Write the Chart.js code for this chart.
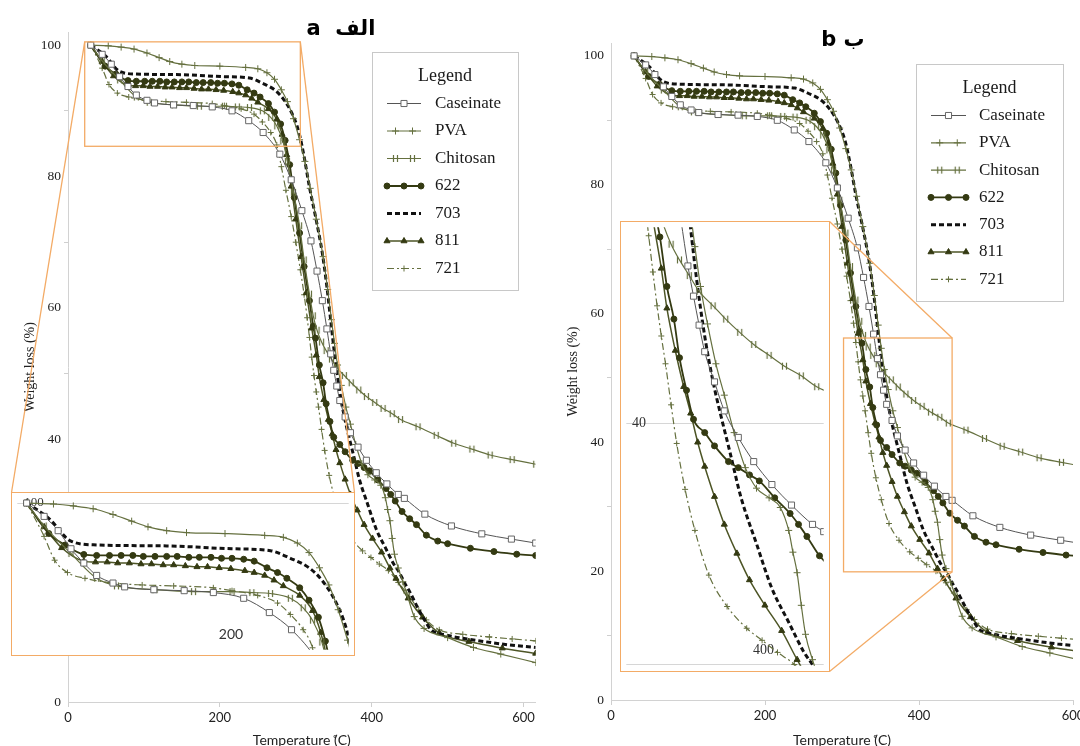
<!DOCTYPE html>
<html>
<head>
<meta charset="utf-8">
<title>TGA curves</title>
<script src="https://cdn.jsdelivr.net/npm/chart.js@4.4.1/dist/chart.umd.min.js"></script>
<style>
  html, body { margin: 0; padding: 0; background: #fff; }
  #page { position: relative; width: 1080px; height: 746px; overflow: hidden; }
  canvas { position: absolute; display: block; }
  .inset { position: absolute; box-sizing: border-box; border: 1px solid #f3ab66; background: #fff; }
  .inset canvas { left: 0; top: 0; }
  .ptitle { position: absolute; width: 200px; text-align: center; font: bold 21px "DejaVu Sans", sans-serif; white-space: nowrap; color: #000; }
</style>
</head>
<body>
<div id="page">
  <canvas id="mainA" width="541" height="746" style="left:0;top:0"></canvas>
  <canvas id="mainB" width="535" height="746" style="left:545px;top:0"></canvas>
  <div class="inset" style="left:11px;top:492px;width:344px;height:164px"><canvas id="insetA" width="342" height="162"></canvas></div>
  <div class="inset" style="left:620px;top:221px;width:210px;height:451px"><canvas id="insetB" width="208" height="449"></canvas></div>
  <div class="ptitle" style="left:241px;top:16px">a&nbsp; الف</div>
  <div class="ptitle" style="left:743px;top:27px">b ب</div>
</div>
<script>
// temperature (C) / weight (%)
const caseinateT = [30, 45, 57, 68, 79, 90, 104, 114, 139, 165, 190, 216, 238, 257, 279, 294, 308, 320, 328, 335, 341, 346, 350, 354, 358, 365, 372, 382, 393, 406, 420, 435, 443, 470, 505, 545, 584, 616];
const caseinateW = [100, 98.6, 97.1, 95.2, 93.7, 92.4, 91.6, 91.2, 90.9, 90.8, 90.6, 90.0, 88.5, 86.7, 83.4, 79.5, 74.8, 70.2, 65.6, 61.1, 56.8, 53.0, 50.5, 48.1, 45.9, 43.4, 41.0, 38.8, 36.8, 34.9, 33.2, 31.6, 31.0, 28.6, 26.8, 25.6, 24.8, 24.2];

const pvaT = [30, 53, 70, 87, 104, 120, 134, 150, 167, 200, 234, 250, 262, 272, 281, 289, 297, 305, 312, 319, 327, 336, 342, 347, 351, 355, 360, 366, 372, 379, 387, 395, 404, 412, 418, 421, 424, 427, 430, 435, 441, 446, 456, 469, 500, 534, 570, 616];
const pvaW = [100, 99.9, 99.7, 99.4, 98.8, 98.1, 97.5, 97.1, 96.9, 96.8, 96.6, 96.4, 95.8, 94.8, 93.2, 91.4, 88.8, 85.6, 82.3, 78.2, 73.5, 67.8, 62.8, 58.2, 54.6, 51.3, 48.2, 44.9, 42.3, 39.2, 36.3, 34.6, 33.8, 33.0, 31.1, 29.3, 27.6, 24.9, 22.5, 20.4, 18.3, 16.6, 13.0, 11.2, 9.8, 8.3, 7.3, 6.0];

const chitosanT = [30, 45, 68, 90, 107, 140, 173, 206, 223, 239, 256, 267, 275, 283, 289, 297, 305, 311, 318, 323, 328, 334, 340, 347, 354, 364, 373, 383, 393, 404, 415, 427, 438, 461, 485, 508, 532, 556, 585, 616];
const chitosanW = [100, 97.6, 94.7, 92.1, 91.3, 90.9, 90.7, 90.7, 90.6, 90.5, 90.0, 89.0, 87.7, 85.4, 82.3, 77.6, 72.5, 67.3, 62.1, 58.8, 56.6, 54.8, 53.5, 52.2, 50.9, 49.7, 48.6, 47.5, 46.5, 45.6, 44.7, 43.9, 43.0, 41.9, 40.6, 39.4, 38.5, 37.6, 36.9, 36.2];

const s622T = [30, 49, 63, 79, 90, 101, 111, 121, 130, 140, 150, 159, 169, 178, 188, 197, 206, 216, 225, 236, 245, 253, 264, 272, 280, 286, 292, 298, 305, 311, 318, 323, 326, 331, 336, 340, 345, 350, 358, 365, 375, 382, 390, 397, 408, 419, 425, 431, 440, 450, 459, 472, 487, 500, 530, 561, 591, 616];
const s622W = [100, 96.8, 95.6, 94.6, 94.5, 94.5, 94.5, 94.5, 94.4, 94.4, 94.4, 94.4, 94.3, 94.3, 94.3, 94.2, 94.2, 94.1, 93.9, 93.2, 92.7, 92.1, 91.1, 89.8, 88.0, 85.5, 81.8, 76.8, 71.4, 66.3, 61.1, 57.2, 55.4, 51.3, 48.6, 45.4, 42.7, 40.3, 39.2, 38.1, 36.8, 36.3, 35.7, 35.2, 33.8, 32.5, 31.6, 30.6, 29.0, 27.9, 27.0, 25.4, 24.5, 24.1, 23.4, 22.9, 22.5, 22.3];

const s703T = [30, 49, 68, 90, 150, 206, 239, 256, 272, 283, 295, 304, 311, 318, 326, 335, 341, 346, 352, 358, 364, 370, 376, 384, 395, 406, 418, 429, 436, 443, 450, 460, 470, 478, 498, 537, 580, 616];
const s703W = [100, 98.4, 96.0, 95.6, 95.5, 95.2, 95.0, 94.2, 93.2, 91.9, 89.6, 86.8, 83.0, 78.4, 73.9, 68.3, 63.2, 58.1, 52.1, 47.2, 43.4, 40.4, 37.6, 33.8, 30.0, 26.3, 23.5, 21.0, 19.8, 18.2, 16.8, 14.5, 12.4, 11.0, 10.2, 9.4, 8.7, 8.3];

const s811T = [30, 45, 60, 79, 89, 99, 108, 118, 128, 137, 147, 156, 166, 176, 185, 195, 205, 217, 225, 234, 242, 250, 264, 275, 282, 288, 294, 300, 307, 314, 321, 327, 331, 337, 343, 348, 353, 358, 365, 372, 381, 390, 401, 413, 424, 432, 448, 467, 489, 528, 572, 616];
const s811W = [100, 97.5, 95.3, 93.9, 93.8, 93.8, 93.7, 93.7, 93.6, 93.6, 93.5, 93.5, 93.4, 93.3, 93.3, 93.2, 93.1, 92.9, 92.7, 92.4, 91.9, 91.3, 90.3, 88.7, 86.4, 83.3, 78.5, 73.5, 67.8, 62.3, 56.9, 52.8, 49.5, 46.0, 43.0, 40.8, 38.4, 36.4, 33.9, 31.6, 29.2, 27.0, 24.9, 22.8, 20.4, 18.8, 15.8, 12.9, 10.5, 9.2, 8.2, 7.4];

const s721T = [30, 45, 54, 65, 80, 104, 129, 156, 190, 206, 228, 245, 256, 267, 275, 281, 287, 294, 300, 306, 311, 315, 318, 321, 324, 327, 330, 334, 338, 344, 351, 361, 374, 388, 399, 410, 422, 435, 450, 462, 472, 489, 520, 555, 585, 616];
const s721W = [100, 96.5, 94.0, 92.7, 92.1, 91.6, 91.4, 91.3, 91.1, 90.8, 90.3, 89.5, 88.3, 86.7, 84.8, 81.5, 77.9, 73.9, 70.0, 65.8, 62.0, 58.5, 55.5, 52.5, 49.7, 47.2, 44.9, 41.5, 38.3, 34.5, 31.1, 27.4, 24.8, 23.0, 22.0, 21.0, 20.0, 18.2, 16.0, 14.0, 12.5, 11.0, 10.3, 9.9, 9.6, 9.3];

const yTickValues = [0, 10, 20, 30, 40, 50, 60, 70, 80, 90, 100];
const yLabelValues = [0, 20, 40, 60, 80, 100];
const xLabelValues = [0, 200, 400, 600];

// zoomed windows [min, max]
const zoomAx = [22, 306], zoomAy = [84.6, 100.5];
const zoomBx = [302, 443], zoomBy = [19.9, 56.2];

const olive = '#65703f';
const dark = '#343a12';
const orange = '#f3ab66';

function series(T, W) {
  return T.map((t, i) => ({ x: t, y: W[i] }));
}

// chitosan marker: two short bars across the line
function hashMark() {
  const c = document.createElement('canvas');
  c.width = 9; c.height = 9;
  const g = c.getContext('2d');
  g.strokeStyle = olive; g.lineWidth = 1.2;
  g.beginPath();
  g.moveTo(2.5, 1); g.lineTo(2.5, 8);
  g.moveTo(6.5, 1); g.lineTo(6.5, 8);
  g.stroke();
  return c;
}
const hashImg = hashMark();

// keep markers roughly evenly spaced on screen
function markerRadius(c) {
  const ds = c.dataset;
  if (!ds.markGap) return 0;
  if (c.type !== 'data') return ds.pointR;
  const chart = c.chart;
  chart.$marks = chart.$marks || {};
  let mask = chart.$marks[c.datasetIndex];
  if (!mask) {
    const sx = chart.scales.x, sy = chart.scales.y;
    let lx = -1e9, ly = -1e9;
    mask = ds.data.map(p => {
      const px = sx.getPixelForValue(p.x), py = sy.getPixelForValue(p.y);
      if (Math.hypot(px - lx, py - ly) < ds.markGap) return false;
      lx = px; ly = py;
      return true;
    });
    chart.$marks[c.datasetIndex] = mask;
  }
  return mask[c.dataIndex] ? ds.pointR : 0;
}

function makeDatasets() {
  return [
    { label: 'Caseinate', data: series(caseinateT, caseinateW), borderColor: '#555', borderWidth: 1,
      pointStyle: 'rect', pointR: 4.3, pointBackgroundColor: '#fff', pointBorderColor: '#666', pointBorderWidth: 1,
      markGap: 24, legendMarks: [0.5] },
    { label: 'PVA', data: series(pvaT, pvaW), borderColor: olive, borderWidth: 1.2,
      pointStyle: 'cross', pointR: 3.5, pointBackgroundColor: olive, pointBorderColor: olive, pointBorderWidth: 1,
      markGap: 16, legendMarks: [0.25, 0.75] },
    { label: 'Chitosan', data: series(chitosanT, chitosanW), borderColor: olive, borderWidth: 1.2,
      pointStyle: hashImg, pointR: 4, pointBackgroundColor: olive, pointBorderColor: olive, pointBorderWidth: 1,
      markGap: 16, legendMarks: [0.25, 0.75] },
    { label: '622', data: series(s622T, s622W), borderColor: dark, borderWidth: 1.8,
      pointStyle: 'circle', pointR: 3, pointBackgroundColor: dark, pointBorderColor: dark, pointBorderWidth: 1,
      markGap: 10, legendMarks: [0, 0.5, 1] },
    { label: '703', data: series(s703T, s703W), borderColor: '#111', borderWidth: 3, borderDash: [5, 3],
      pointStyle: 'circle', pointR: 0, pointBackgroundColor: '#111', pointBorderColor: '#111', pointBorderWidth: 0,
      markGap: 0, legendMarks: [] },
    { label: '811', data: series(s811T, s811W), borderColor: '#4d5526', borderWidth: 1.5,
      pointStyle: 'triangle', pointR: 3.5, pointBackgroundColor: dark, pointBorderColor: dark, pointBorderWidth: 1,
      markGap: 10, legendMarks: [0, 0.5, 1] },
    { label: '721', data: series(s721T, s721W), borderColor: olive, borderWidth: 1.2, borderDash: [7, 3, 2, 3],
      pointStyle: 'cross', pointR: 3, pointBackgroundColor: olive, pointBorderColor: olive, pointBorderWidth: 1,
      markGap: 16, legendMarks: [0.5] }
  ].map(ds => Object.assign({
    fill: false, cubicInterpolationMode: 'monotone', pointRadius: markerRadius, pointHoverRadius: 0
  }, ds));
}

const boxLegend = {
  id: 'boxLegend',
  afterDraw(chart, args, o) {
    if (!o || !o.box) return;
    const ctx = chart.ctx;
    const [bx, by, bw, bh] = o.box;
    ctx.save();
    ctx.fillStyle = '#fff';
    ctx.fillRect(bx, by, bw, bh);
    ctx.strokeStyle = '#c8c8c8'; ctx.lineWidth = 1;
    ctx.strokeRect(bx + 0.5, by + 0.5, bw, bh);
    ctx.fillStyle = '#1a1a1a';
    ctx.font = '18px "Liberation Serif", serif';
    ctx.textBaseline = 'middle';
    ctx.textAlign = 'center';
    ctx.fillText('Legend', bx + bw / 2, o.titleY);
    ctx.font = '17px "Liberation Serif", serif';
    ctx.textAlign = 'left';
    chart.data.datasets.forEach((ds, i) => {
      const y = o.rowY + i * o.rowStep;
      ctx.save();
      ctx.strokeStyle = ds.borderColor;
      ctx.lineWidth = ds.borderWidth;
      ctx.setLineDash(ds.borderDash || []);
      ctx.beginPath(); ctx.moveTo(o.x0, y); ctx.lineTo(o.x1, y); ctx.stroke();
      ctx.setLineDash([]);
      ds.legendMarks.forEach(f => {
        ctx.fillStyle = ds.pointBackgroundColor;
        ctx.strokeStyle = ds.pointBorderColor;
        ctx.lineWidth = ds.pointBorderWidth;
        Chart.helpers.drawPoint(ctx, { pointStyle: ds.pointStyle, radius: ds.pointR, rotation: 0, borderWidth: ds.pointBorderWidth },
          o.x0 + f * (o.x1 - o.x0), y);
      });
      ctx.restore();
      ctx.fillText(ds.label, o.textX, y);
    });
    ctx.restore();
  }
};

const zoomLinks = {
  id: 'zoomLinks',
  afterDatasetsDraw(chart, args, o) {
    if (!o || !o.bx) return;
    const { x, y } = chart.scales;
    const ctx = chart.ctx;
    const L = x.getPixelForValue(o.bx[0]), R = x.getPixelForValue(o.bx[1]);
    const B = y.getPixelForValue(o.by[0]), T = y.getPixelForValue(o.by[1]);
    const corner = { tl: [L, T], tr: [R, T], bl: [L, B], br: [R, B] };
    ctx.save();
    ctx.strokeStyle = orange; ctx.lineWidth = 1.3;
    ctx.strokeRect(L, T, R - L, B - T);
    o.links.forEach(([c, px, py]) => {
      ctx.beginPath();
      ctx.moveTo(corner[c][0], corner[c][1]);
      ctx.lineTo(px, py);
      ctx.stroke();
    });
    ctx.restore();
  }
};

const insetMarks = {
  id: 'insetMarks',
  beforeDatasetsDraw(chart, args, o) {
    const { x, y } = chart.scales;
    const ctx = chart.ctx, a = chart.chartArea;
    ctx.save();
    ctx.strokeStyle = '#d6d6d6'; ctx.lineWidth = 1;
    (o.gridY || []).forEach(v => {
      const py = Math.round(y.getPixelForValue(v)) + 0.5;
      ctx.beginPath(); ctx.moveTo(a.left, py); ctx.lineTo(a.right, py); ctx.stroke();
    });
    ctx.fillStyle = '#333';
    ctx.textBaseline = 'middle'; ctx.textAlign = 'center';
    (o.labels || []).forEach(l => {
      ctx.font = l.font;
      const px = l.xv !== undefined ? x.getPixelForValue(l.xv) + (l.dx || 0) : l.px;
      const py = l.yv !== undefined ? y.getPixelForValue(l.yv) : l.py;
      ctx.fillText(l.text, px, py);
    });
    ctx.restore();
  }
};

const tickFontY = { family: '"Liberation Serif", serif', size: 13.5 };
const tickFontX = { family: 'Lato, sans-serif', size: 13 };

function mainChart(id, cfg) {
  return new Chart(document.getElementById(id), {
    type: 'line',
    data: { datasets: makeDatasets() },
    options: {
      responsive: false,
      animation: false,
      events: [],
      layout: { padding: { top: cfg.top, right: cfg.right, left: 0, bottom: 0 } },
      plugins: {
        legend: { display: false },
        tooltip: { enabled: false },
        boxLegend: cfg.legend,
        zoomLinks: cfg.zoom
      },
      scales: {
        x: {
          type: 'linear', min: 0, max: cfg.xMax,
          border: { color: '#d2d2d2' },
          grid: { drawOnChartArea: false, tickLength: 5, color: '#cfcfcf' },
          ticks: { maxRotation: 0, autoSkip: false, padding: 3, color: '#222', font: tickFontX },
          afterBuildTicks: s => { s.ticks = xLabelValues.map(v => ({ value: v })); },
          title: { display: true, text: 'Temperature (\u030AC)', color: '#222',
                   font: { family: 'Lato, sans-serif', size: 14 }, padding: { top: 0, bottom: -3 } },
          afterFit: s => { s.height = cfg.xAxisH; s.paddingLeft = 0; s.paddingRight = 0; }
        },
        y: {
          min: 0, max: 102,
          border: { color: '#d2d2d2' },
          grid: { drawOnChartArea: false, tickLength: 4,
                  color: c => (c.tick && c.tick.value % 20 === 10) ? '#cfcfcf' : 'rgba(0,0,0,0)' },
          ticks: { autoSkip: false, padding: 3, color: '#222', font: tickFontY,
                   callback: v => yLabelValues.includes(v) ? v : '' },
          afterBuildTicks: s => { s.ticks = yTickValues.map(v => ({ value: v })); },
          title: { display: true, text: 'Weight loss (%)', color: '#222',
                   font: { family: '"Liberation Serif", serif', size: 14 }, padding: { top: cfg.yTitlePad, bottom: 0 } },
          afterFit: s => { s.width = cfg.yAxisW; }
        }
      }
    },
    plugins: [zoomLinks, boxLegend]
  });
}

function insetChart(id, xr, yr, marks) {
  return new Chart(document.getElementById(id), {
    type: 'line',
    data: { datasets: makeDatasets() },
    options: {
      responsive: false,
      animation: false,
      events: [],
      layout: { padding: 0 },
      plugins: { legend: { display: false }, tooltip: { enabled: false }, insetMarks: marks },
      scales: {
        x: { type: 'linear', display: false, min: xr[0], max: xr[1] },
        y: { display: false, min: yr[0], max: yr[1] }
      }
    },
    plugins: [insetMarks]
  });
}

mainChart('mainA', {
  top: 32, right: 0, xMax: 616, xAxisH: 44, yAxisW: 68, yTitlePad: 22,
  legend: { box: [372, 52, 146, 238], titleY: 76, rowY: 103.5, rowStep: 27.5, x0: 387, x1: 421, textX: 435 },
  zoom: { bx: zoomAx, by: zoomAy, links: [['tl', 11.5, 492.5], ['tr', 354.5, 492.5]] }
});

mainChart('mainB', {
  top: 43, right: 7, xMax: 600, xAxisH: 46, yAxisW: 66, yTitlePad: 20,
  legend: { box: [371, 64, 147, 237], titleY: 88, rowY: 115.5, rowStep: 27.3, x0: 386, x1: 421, textX: 434 },
  zoom: { bx: zoomBx, by: zoomBy, links: [['tr', 284.5, 221.5], ['br', 284.5, 671.5]] }
});

insetChart('insetA', zoomAx, zoomAy, {
  gridY: [100],
  labels: [
    { text: '100', px: 22, yv: 100, font: '13px "Liberation Serif", serif' },
    { text: '200', xv: 200, dx: 6, py: 141, font: '14px Lato, sans-serif' }
  ]
});

insetChart('insetB', zoomBx, zoomBy, {
  gridY: [40, 20],
  labels: [
    { text: '40', px: 18, yv: 40, font: '14px "Liberation Serif", serif' },
    { text: '400', xv: 400, py: 428, font: '14px "Liberation Serif", serif' }
  ]
});
</script>
</body>
</html>
